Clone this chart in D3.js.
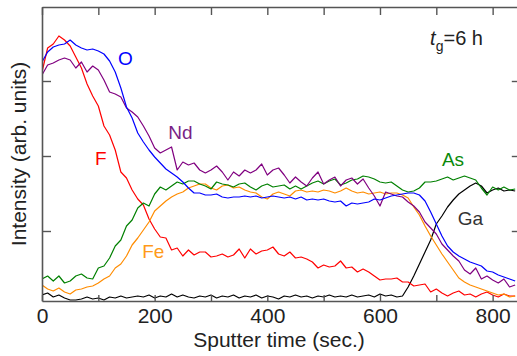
<!DOCTYPE html>
<html>
<head>
<meta charset="utf-8">
<script src="https://cdn.jsdelivr.net/npm/d3@7"></script>
<style>
  body { margin: 0; background: #fff; }
  svg { display: block; }
  text { font-family: "Liberation Sans", Arial, Helvetica, sans-serif; }
</style>
</head>
<body>
<svg id="chart" width="517" height="356"></svg>
<script>
// sputter time (sec.)
const timeSec = [0,10,20,30,40,50,60,70,80,90,100,110,120,130,140,150,160,170,180,190,
  200,210,220,230,240,250,260,270,280,290,300,310,320,330,340,350,360,370,380,390,
  400,410,420,430,440,450,460,470,480,490,500,510,520,530,540,550,560,570,580,590,
  600,610,620,630,640,650,660,670,680,690,700,710,720,730,740,750,760,770,780,790,
  800,810,820,830,840];

// intensities (arb. units)
const oVals = [239,249,254,256,257,261,256,253,251,252,250,247,240,229,213,194,183,168,159,151,
  144,138,132,128,124,119,113,108,108,106,106,107,104,103,104,104,105,104,105,103,
  104,105,104,103,104,102,104,101,102,101,102,100,99,100,95,98,97,98,99,102,
  101,103,105,106,107,108,108,106,100,89,77,65,55,49,45,42,39,37,35,30,
  29,26,24,22,20];
const ndVals = [226,236,238,241,243,241,233,239,229,235,231,221,209,207,204,193,189,184,175,165,
  153,148,151,154,131,139,136,138,131,128,131,135,129,121,129,125,131,128,131,137,
  126,131,133,126,118,124,119,115,123,129,117,121,124,115,121,123,117,122,113,105,
  95,109,107,105,104,99,95,89,79,73,67,57,51,45,40,31,27,33,22,25,
  21,18,22,14,16];
const fVals = [229,253,257,265,261,255,244,233,217,205,195,175,166,151,129,123,111,102,96,82,
  72,64,63,51,53,45,51,46,49,49,44,45,47,44,46,52,43,52,47,50,
  51,54,47,45,49,43,44,42,39,33,36,34,35,40,33,34,29,32,29,25,
  21,22,22,23,19,19,15,16,17,9,12,8,5,8,10,6,7,4,7,9,
  6,4,7,5,5];
const asVals = [22,25,20,25,18,20,25,27,23,22,33,35,43,55,61,75,81,93,98,95,
  107,114,111,115,119,117,120,120,117,115,112,119,117,116,114,117,118,114,111,115,
  117,114,115,116,112,115,112,115,118,120,117,120,122,116,118,121,122,125,124,122,
  119,118,119,115,111,109,110,113,119,119,120,122,124,121,123,125,123,121,113,106,
  114,111,114,111,112];
const feVals = [16,12,10,13,9,7,11,12,14,15,18,22,25,33,37,45,56,63,71,79,
  90,95,100,104,107,109,113,115,117,117,113,111,115,116,113,114,111,109,108,104,
  102,107,109,107,105,110,111,109,110,109,111,110,108,110,113,110,108,109,107,108,
  109,107,108,108,106,103,94,86,75,65,56,47,39,31,23,19,16,14,12,10,
  8,6,7,4,5];
const gaVals = [6,8,4,6,3,1,1,2,4,2,3,1,4,3,5,3,4,5,4,6,
  3,5,4,7,4,6,4,3,5,4,6,3,5,4,6,3,5,4,6,3,
  5,4,2,5,4,6,4,5,3,5,4,6,4,5,4,6,4,5,6,4,
  7,5,6,4,5,14,25,37,49,61,77,85,94,101,107,111,115,118,115,108,
  111,113,110,111,110];

const seriesNames = ['Ga', 'F', 'Fe', 'As', 'Nd', 'O'];
const seriesVals = [gaVals, fVals, feVals, asVals, ndVals, oVals];
const seriesColors = ['#000000', '#ff0000', '#ff8c00', '#008000', '#800080', '#0000ff'];

// label anchor points in data units (time, intensity)
const labelText = ['O', 'Nd', 'F', 'As', 'Fe', 'Ga'];
const labelAt = [[135, 236], [224, 162], [94, 136], [710, 135], [178, 43], [738, 76]];
const labelColors = ['#0000ff', '#7a1f86', '#ff0000', '#0a8a0a', '#ff9a1a', '#333333'];

const xTicks = [0, 100, 200, 300, 400, 500, 600, 700, 800];
const xTickLabels = [0, 200, 400, 600, 800];
const yTicks = [70, 145, 220];

const svg = d3.select('#chart');
const plotLeft = 42, plotRight = 520.8, plotTop = 7, plotBottom = 301;

const x = d3.scaleLinear().domain([0, 850]).range([plotLeft, plotRight]);
const y = d3.scaleLinear().domain([0, 294]).range([plotBottom, plotTop]);

svg.append('clipPath').attr('id', 'plot-clip')
  .append('rect')
  .attr('x', plotLeft).attr('y', plotTop)
  .attr('width', plotRight - plotLeft).attr('height', plotBottom - plotTop);

const line = d3.line()
  .x((d, i) => x(timeSec[i]))
  .y(d => y(d));

const lines = svg.append('g').attr('clip-path', 'url(#plot-clip)');
seriesVals.forEach((vals, k) => {
  lines.append('path')
    .datum(vals)
    .attr('fill', 'none')
    .attr('stroke', seriesColors[k])
    .attr('stroke-width', 1.2)
    .attr('stroke-linejoin', 'round')
    .attr('d', line);
});

// axes, ticks pointing inward on all four sides
const frameColor = '#555';
const styleAxis = g => {
  g.select('.domain').attr('stroke', frameColor).attr('stroke-width', 1.6);
  g.selectAll('.tick line').attr('stroke', frameColor).attr('stroke-width', 1.4);
  g.selectAll('.tick text').attr('fill', '#222').attr('font-size', 21)
    .attr('font-family', '"Liberation Sans", Arial, sans-serif');
};

svg.append('g')
  .attr('transform', `translate(0,${plotBottom})`)
  .call(d3.axisBottom(x).tickValues(xTicks).tickSizeInner(-6).tickSizeOuter(0).tickPadding(7)
    .tickFormat(d => xTickLabels.includes(d) ? d : ''))
  .call(styleAxis);

svg.append('g')
  .attr('transform', `translate(0,${plotTop})`)
  .call(d3.axisTop(x).tickValues(xTicks).tickSizeInner(-8).tickSizeOuter(0).tickFormat(''))
  .call(styleAxis);

svg.append('g')
  .attr('transform', `translate(${plotLeft},0)`)
  .call(d3.axisLeft(y).tickValues(yTicks).tickSizeInner(-9).tickSizeOuter(0).tickFormat(''))
  .call(styleAxis);

svg.append('g')
  .attr('transform', `translate(${plotRight},0)`)
  .call(d3.axisRight(y).tickValues(yTicks).tickSizeInner(-9).tickSizeOuter(0).tickFormat(''))
  .call(styleAxis);

// series labels
svg.append('g').selectAll('text')
  .data(labelText)
  .join('text')
  .attr('x', (d, i) => x(labelAt[i][0]))
  .attr('y', (d, i) => y(labelAt[i][1]))
  .attr('fill', (d, i) => labelColors[i])
  .attr('font-size', 19)
  .text(d => d);

// growth time annotation
const tg = svg.append('text')
  .attr('x', x(689)).attr('y', y(256))
  .attr('fill', '#222').attr('font-size', 20);
tg.append('tspan').attr('font-style', 'italic').text('t');
tg.append('tspan').attr('font-size', 14).attr('dy', 6).text('g');
tg.append('tspan').attr('dy', -6).text('=6 h');

// axis titles
svg.append('text')
  .attr('x', 279).attr('y', 347)
  .attr('text-anchor', 'middle')
  .attr('fill', '#222').attr('font-size', 21)
  .text('Sputter time (sec.)');

svg.append('text')
  .attr('transform', 'translate(26,154) rotate(-90)')
  .attr('text-anchor', 'middle')
  .attr('fill', '#222').attr('font-size', 21)
  .text('Intensity (arb. units)');
</script>
</body>
</html>
